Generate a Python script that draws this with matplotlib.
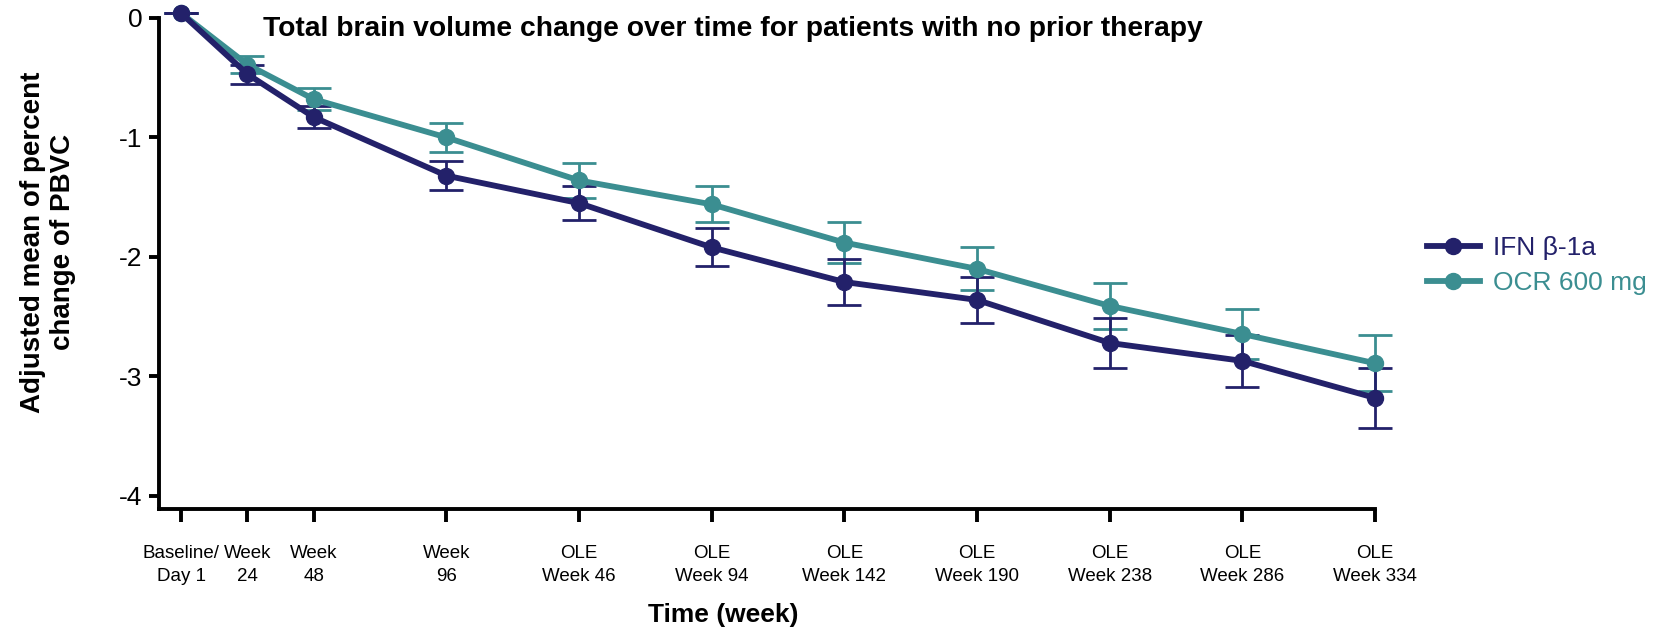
import matplotlib
matplotlib.use("Agg")
from matplotlib import pyplot as plt
from matplotlib import font_manager

# weeks since baseline (OLE weeks counted on from week 96)
weeks = [0, 24, 48, 96, 144, 192, 240, 288, 336, 384, 432]
tick_labels = ["Baseline/\nDay 1", "Week\n24", "Week\n48", "Week\n96",
               "OLE\nWeek 46", "OLE\nWeek 94", "OLE\nWeek 142", "OLE\nWeek 190",
               "OLE\nWeek 238", "OLE\nWeek 286", "OLE\nWeek 334"]

ifn_mean = [0.04, -0.47, -0.83, -1.32, -1.55, -1.92, -2.21, -2.36, -2.72, -2.87, -3.18]
ifn_err = [0.0, 0.08, 0.09, 0.12, 0.14, 0.16, 0.19, 0.19, 0.21, 0.22, 0.25]
ocr_mean = [0.04, -0.39, -0.68, -1.00, -1.36, -1.56, -1.88, -2.10, -2.41, -2.645, -2.89]
ocr_err = [0.0, 0.07, 0.09, 0.12, 0.15, 0.15, 0.17, 0.18, 0.19, 0.21, 0.235]

navy = "#23216a"
teal = "#3b8e91"

names = [f.name for f in font_manager.fontManager.ttflist]
narrow = "Liberation Sans Narrow" if "Liberation Sans Narrow" in names else "Liberation Sans"
plt.rcParams["font.family"] = ["Liberation Sans", "DejaVu Sans"]

fig = plt.figure(figsize=(16.63, 6.35), dpi=100)
ax = fig.add_axes([0.0956, 0.1984, 0.8268 - 0.0956, 0.9717 - 0.1984])

handles = []
for mean, err, col, lab in [(ocr_mean, ocr_err, teal, "OCR 600 mg"),
                            (ifn_mean, ifn_err, navy, "IFN \u03b2-1a")]:
    cont = ax.errorbar(weeks, mean, yerr=err, color=col, lw=4.2, marker="o", ms=11.5,
                       elinewidth=2, capsize=12, capthick=2, clip_on=False, label=lab)
    for art in cont.lines[1] + cont.lines[2]:
        art.set_clip_on(False)
    handles.append(cont[0])

ax.set_xlim(-8, 432)
ax.set_ylim(-4.11, 0)
ax.set_yticks([0, -1, -2, -3, -4])
ax.set_yticklabels(["0", "-1", "-2", "-3", "-4"])
ax.set_xticks(weeks)
ax.set_xticklabels(tick_labels, fontfamily=narrow, fontsize=13.5, linespacing=1.42)

for s in ["top", "right"]:
    ax.spines[s].set_visible(False)
for s in ["left", "bottom"]:
    ax.spines[s].set_linewidth(2.8)
ax.tick_params(axis="y", length=7, width=2.8, labelsize=19, pad=5)
ax.tick_params(axis="x", length=9, width=2.8, pad=17)

fig.text(263 / 1663, 1 - 29 / 635,
         "Total brain volume change over time for patients with no prior therapy",
         ha="left", va="center", fontsize=20.3, fontweight="bold")
fig.text(48 / 1663, 1 - 242 / 635, "Adjusted mean of percent\nchange of PBVC",
         rotation=90, ha="center", va="center", fontsize=20, fontweight="bold",
         linespacing=1.15)
fig.text(723 / 1663, 1 - 615 / 635, "Time (week)", ha="center", va="center",
         fontsize=19, fontweight="bold")

leg = fig.legend(handles[::-1], ["IFN \u03b2-1a", "OCR 600 mg"], loc="center left",
                 bbox_to_anchor=(1427 / 1663, 1 - 265.5 / 635), frameon=False,
                 fontsize=19, borderpad=0, borderaxespad=0, handlelength=2.0,
                 handletextpad=0.5, labelspacing=0.4, labelcolor="linecolor")

fig.savefig("out.png", dpi=100)
